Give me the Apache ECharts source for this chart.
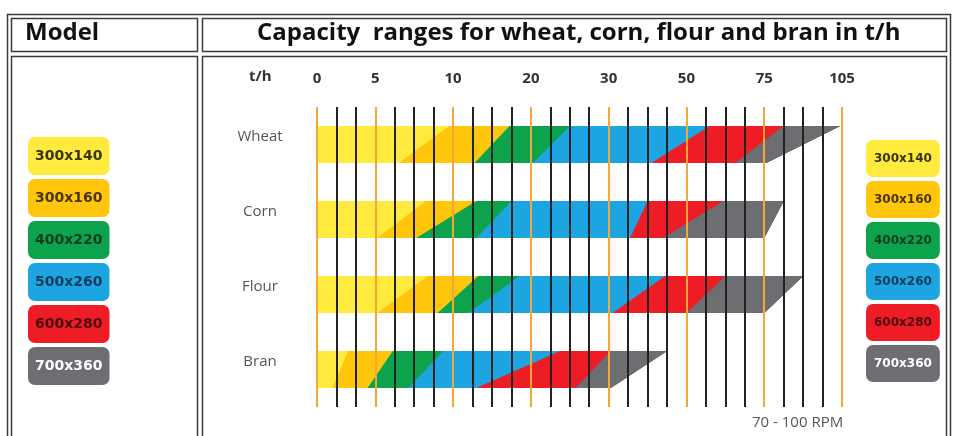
<!DOCTYPE html>
<html>
<head>
<meta charset="utf-8">
<title>Capacity ranges</title>
<script src="https://cdn.jsdelivr.net/npm/echarts@6/dist/echarts.min.js"></script>
<style>
  html, body { margin: 0; padding: 0; background: #fff; }
  #chart { width: 954px; height: 436px; }
</style>
</head>
<body>
<div id="chart"></div>
<script>
// rows and machine models
var rows = ['Wheat', 'Corn', 'Flour', 'Bran'];
var models = ['300x140', '300x160', '400x220', '500x260', '600x280', '700x360'];

// t/h tick labels and the grid division each one sits on (scale is not linear)
var tickLabels = ['0', '5', '10', '20', '30', '50', '75', '105'];
var tickDivs = [0, 3, 7, 11, 15, 19, 23, 27];
var divCount = 27;

// where each model's band starts (slanted left edge), in grid divisions,
// read at the bottom and at the top of the band
var wheatBottom = [0, 4.2, 8.1, 11.1, 17.2, 21.5];
var wheatTop    = [0, 6.8, 9.9, 13.0, 20.2, 24.0];
var cornBottom  = [0, 3.1, 5.1, 8.2, 16.1, 17.8];
var cornTop     = [0, 5.6, 8.2, 10.0, 17.0, 20.9];
var flourBottom = [0, 3.1, 6.2, 7.8, 15.2, 19.0];
var flourTop    = [0, 5.7, 8.3, 10.4, 17.9, 21.0];
var branBottom  = [0, 0.8, 2.6, 4.7, 8.2, 13.3];
var branTop     = [0, 1.6, 3.9, 6.5, 12.5, 15.1];
// end of each row (slanted right edge of the last band)
var rowEndBottom = [23.1, 23.0, 23.0, 15.1];
var rowEndTop    = [26.9, 24.0, 25.0, 18.0];

var colors = ['#FFEA3D', '#FFC60B', '#0DA24C', '#1DA5E2', '#EE1C25', '#6D6E71'];
var textColors = ['#3a3410', '#4a3406', '#0a3d1c', '#0c3a5c', '#4d0a0c', '#ffffff'];
var BAND_HEIGHT = 37;

var startBottom = [wheatBottom, cornBottom, flourBottom, branBottom];
var startTop = [wheatTop, cornTop, flourTop, branTop];

function renderBand(params, api) {
  var row = api.value(0);
  var mid = api.coord([0, row])[1];
  var half = BAND_HEIGHT / 2;
  var xb0 = api.coord([api.value(1), row])[0];
  var xt0 = api.coord([api.value(2), row])[0];
  var xb1 = api.coord([api.value(3), row])[0];
  var xt1 = api.coord([api.value(4), row])[0];
  return {
    type: 'polygon',
    shape: { points: [[xb0, mid + half], [xt0, mid - half], [xt1, mid - half], [xb1, mid + half]] },
    style: { fill: api.visual('color') }
  };
}

var series = models.map(function(name, m) {
  var data = rows.map(function(r, i) {
    return [i, startBottom[i][m], startTop[i][m], rowEndBottom[i], rowEndTop[i]];
  });
  return {
    type: 'custom',
    name: name,
    renderItem: renderBand,
    data: data,
    encode: { x: [1, 2, 3, 4], y: 0 },
    itemStyle: { color: colors[m] },
    silent: true,
    z: 2
  };
});

// orange rule on labelled divisions, black rule elsewhere
var lineColors = [];
for (var i = 0; i <= divCount; i++) {
  lineColors.push(tickDivs.indexOf(i) >= 0 ? '#F4A63A' : '#222222');
}

function legendItems() {
  return models.map(function(name, m) {
    return { name: name, textStyle: { backgroundColor: colors[m], color: textColors[m] } };
  });
}
var legendLeftText = {
  fontFamily: 'DejaVu Sans', fontWeight: 'bold', fontSize: 14, lineHeight: 16,
  padding: [11, 7], borderRadius: 7
};
var legendRightText = {
  fontFamily: 'DejaVu Sans', fontWeight: 'bold', fontSize: 12, lineHeight: 15,
  padding: [11, 8], borderRadius: 7
};

// table frame
function box(x, y, w, h) {
  return {
    type: 'rect',
    silent: true,
    shape: { x: x, y: y, width: w, height: h },
    style: { fill: 'none', stroke: '#3a3a3a', lineWidth: 1.5 },
    z: 0
  };
}

var headerText = { fontFamily: 'Open Sans', fontWeight: 'bold', fontSize: 24, color: '#111' };

var chart = echarts.init(document.getElementById('chart'));
chart.setOption({
  animation: false,
  backgroundColor: '#ffffff',
  title: [
    { text: 'Model', left: 25, top: 21, padding: 0, textStyle: headerText },
    { text: 'Capacity  ranges for wheat, corn, flour and bran in t/h', left: 257, top: 21, padding: 0,
      textStyle: headerText },
    { text: 't/h', left: 249, top: 69, padding: 0,
      textStyle: { fontFamily: 'Open Sans', fontWeight: 'bold', fontSize: 15, color: '#333' } },
    { text: '70 - 100 RPM', left: 752, top: 415, padding: 0,
      textStyle: { fontFamily: 'Open Sans', fontWeight: 'normal', fontSize: 15, color: '#555' } }
  ],
  legend: [
    { data: legendItems(), orient: 'vertical', left: 23, top: 137, itemGap: 4, padding: 0,
      itemWidth: 0, itemHeight: 0, selectedMode: false, textStyle: legendLeftText },
    { data: legendItems(), orient: 'vertical', left: 861, top: 140, itemGap: 4, padding: 0,
      itemWidth: 0, itemHeight: 0, selectedMode: false, textStyle: legendRightText }
  ],
  grid: { left: 317, right: 112, top: 107, bottom: 29, containLabel: false, outerBoundsMode: 'none' },
  xAxis: {
    type: 'value',
    position: 'top',
    min: 0,
    max: divCount,
    interval: 1,
    z: 10,
    axisLine: { show: false },
    axisTick: { show: false },
    axisLabel: {
      margin: 21,
      fontFamily: 'Open Sans',
      fontWeight: 'bold',
      fontSize: 15,
      color: '#333',
      formatter: function(v) {
        var k = tickDivs.indexOf(v);
        return k < 0 ? '' : tickLabels[k];
      }
    },
    splitLine: { show: true, lineStyle: { color: lineColors, width: 2 } }
  },
  yAxis: {
    type: 'category',
    data: rows,
    inverse: true,
    axisLine: { show: false },
    axisTick: { show: false },
    splitLine: { show: false },
    axisLabel: {
      margin: 57,
      align: 'center',
      verticalAlign: 'bottom',
      fontFamily: 'Open Sans',
      fontSize: 15,
      color: '#555'
    }
  },
  graphic: [
    box(7.5, 14.5, 943, 440),
    box(11.5, 18.5, 186, 33),
    box(202.5, 18.5, 744, 33),
    box(11.5, 56.5, 186, 400),
    box(202.5, 56.5, 744, 400)
  ],
  series: series
});
</script>
</body>
</html>
